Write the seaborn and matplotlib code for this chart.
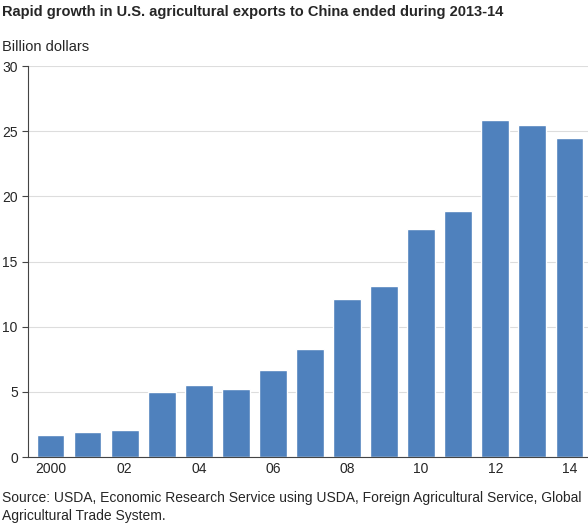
import matplotlib
matplotlib.use("Agg")
import matplotlib.pyplot as plt
import seaborn as sns
import pandas as pd

years = [str(y) for y in range(2000, 2015)]
values = [1.7, 1.9, 2.05, 5.0, 5.55, 5.25, 6.7, 8.3, 12.1, 13.1, 17.5, 18.85, 25.85, 25.5, 24.5]
tick_labels = ["2000", "", "02", "", "04", "", "06", "", "08", "", "10", "", "12", "", "14"]

sns.set_style("white")
plt.rcParams['font.family'] = ['Liberation Sans', 'DejaVu Sans']

fig = plt.figure(figsize=(5.88, 5.29), dpi=100)
ax = fig.add_axes([0.048, 0.136, 0.952, 0.739])
df = pd.DataFrame({"year": years, "value": values})
sns.barplot(data=df, x="year", y="value", color="#4f81bd", saturation=1, width=0.75, ax=ax)
ax.set_ylim(0, 30)
ax.set_yticks(range(0, 31, 5))
ax.set_xlim(-0.6, 14.5)
ax.set_xticks(range(15))
ax.set_xticklabels(tick_labels)
ax.set_xlabel(""); ax.set_ylabel("")
ax.grid(axis="y", color="#dddddd", lw=0.8)
ax.set_axisbelow(True)
for s in ["top", "right"]:
    ax.spines[s].set_visible(False)
ax.spines["left"].set_color("#444444")
ax.spines["bottom"].set_color("#444444")
ax.tick_params(axis="both", labelsize=10, length=4, color="#444444", left=True, bottom=True)
ax.tick_params(axis="x", length=0)
fig.text(0.003, 0.977, "Rapid growth in U.S. agricultural exports to China ended during 2013-14",
         fontsize=10.5, fontweight="bold", va="center")
fig.text(0.003, 0.911, "Billion dollars", fontsize=10.5, va="center")
fig.text(0.003, 0.042, "Source: USDA, Economic Research Service using USDA, Foreign Agricultural Service, Global\nAgricultural Trade System.",
         fontsize=10, va="center", linespacing=1.35)
fig.savefig("out.png", dpi=100)
